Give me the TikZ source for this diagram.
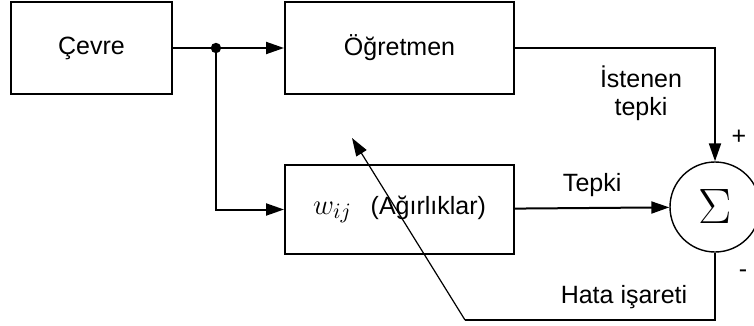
\documentclass[tikz,border=0pt]{standalone}
\usepackage{fontspec}
\setmainfont{Liberation Sans}
\usetikzlibrary{arrows.meta}
\usetikzlibrary{positioning}
\usetikzlibrary{calc}

\tikzset{
    block/.style={draw, line width=1pt, rectangle, minimum height=46pt, inner sep=0pt},
    sumnode/.style={draw, line width=0.7pt, circle, minimum size=45pt, inner sep=0pt},
    link/.style={line width=1pt},
    etiket/.style={inner sep=1pt}
}

\begin{document}
\begin{tikzpicture}[x=0.5pt, y=-0.5pt, font=\fontsize{12.5}{14}\selectfont,
                    >={Triangle[length=9pt, width=6pt]}]

                    \useasboundingbox (0,0) rectangle (754,326);

                    \node[block, minimum width=80.5pt] (cevre) at (91.5,48) {Çevre};
                    \node[block, minimum width=114.5pt] (ogretmen) [right = 55.5pt of cevre] {Öğretmen};
                    \node[block, minimum width=114.5pt, minimum height=44.5pt] (agirlik) [below = 34.5pt of ogretmen]
                        {{\fontsize{15}{15}\selectfont$w_{ij}$}\hspace{0.75em}(Ağırlıklar)\hspace{7pt}};
                    \node[sumnode] (toplam) at (715,207) {\fontsize{25}{25}\selectfont$\Sigma$};

                    \coordinate (kavsak) at ($(cevre.east)!0.387!(ogretmen.west)$);
                    \coordinate (donus) at (465,320);
                    \coordinate (hedef) at (352,138);

                    \node[etiket, align=center] (istenen) at (641,93) {İstenen\\tepki};
                    \node[etiket] (arti) at (739,137) {+};
                    \node[etiket] (eksi) at (743,274) {-};
                    \node[etiket] (hata) at (624,297) {Hata işareti};

                    \draw[link, ->] (cevre) -- (ogretmen);
                    \fill (kavsak) circle (2.6pt);
                    \draw[link, ->] (kavsak) |- (agirlik);
                    \draw[link, ->] (ogretmen) -| (toplam);
                    \draw[link, ->] (agirlik) -- node[etiket, above=4pt] (tepki) {Tepki} (toplam);
                    \draw[link] (toplam) |- (donus);
                    \draw[line width=0.6pt, ->] (donus) -- (hedef);

                \end{tikzpicture}
\end{document}
